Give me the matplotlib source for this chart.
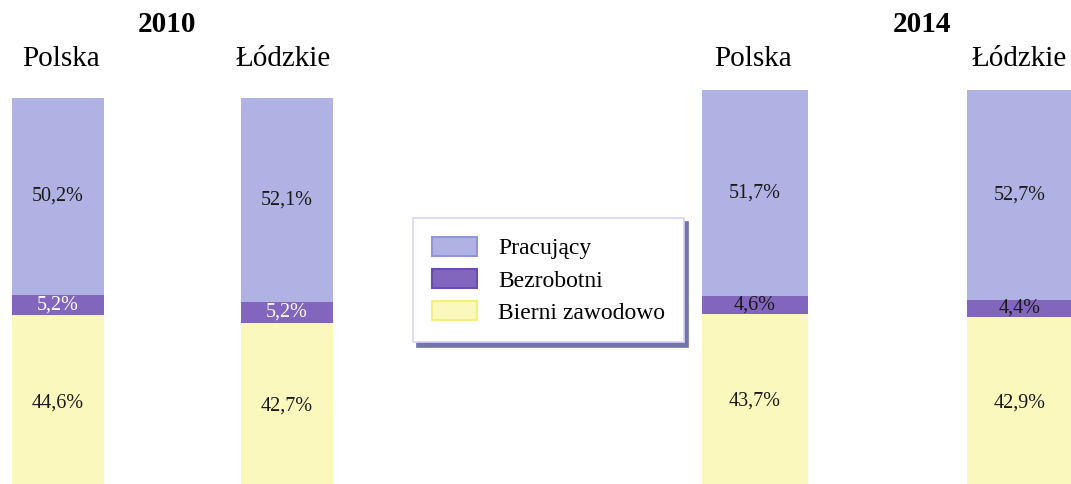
import matplotlib
matplotlib.use('Agg')
import matplotlib.pyplot as plt
from matplotlib.patches import Patch

# data (percent of population)
regions = ['Polska', 'Łódzkie']
years = ['2010', '2014']
pracujacy = {'2010': [50.2, 52.1], '2014': [51.7, 52.7]}
bezrobotni = {'2010': [5.2, 5.2], '2014': [4.6, 4.4]}
bierni = {'2010': [44.6, 42.7], '2014': [43.7, 42.9]}
series_names = ['Pracujący', 'Bezrobotni', 'Bierni zawodowo']

colors = {'Pracujący': '#AFB2E3', 'Bezrobotni': '#8266BE', 'Bierni zawodowo': '#FAF8BC'}
edges = {'Pracujący': '#9195DA', 'Bezrobotni': '#6A4CB2', 'Bierni zawodowo': '#F2EE84'}
mid_text = {'2010': 'white', '2014': '#1a1a1a'}

plt.rcParams['font.family'] = ['Liberation Serif', 'DejaVu Serif']

W, H = 1071, 484
fig = plt.figure(figsize=(W / 100, H / 100), dpi=100)

# axes boxes in pixels: left, top, right, bottom
boxes = {'2010': (12, 98, 333, 490), '2014': (702, 90, 1073, 488)}
header_x = {'2010': (167, [61, 283]), '2014': (922, [753, 1019])}

for year in years:
    l, t, r, b = boxes[year]
    ax = fig.add_axes([l / W, (H - b) / H, (r - l) / W, (b - t) / H])
    x = range(len(regions))
    bw = 0.4
    bot = bierni[year]
    mid = bezrobotni[year]
    top = pracujacy[year]
    ax.bar(x, bot, width=bw, color=colors['Bierni zawodowo'], linewidth=0)
    ax.bar(x, mid, width=bw, bottom=bot, color=colors['Bezrobotni'], linewidth=0)
    base2 = [a + c for a, c in zip(bot, mid)]
    ax.bar(x, top, width=bw, bottom=base2, color=colors['Pracujący'], linewidth=0)
    for i in x:
        fmt = lambda v: ('%.1f%%' % v).replace('.', ',')
        ax.text(i, bot[i] / 2, fmt(bot[i]), ha='center', va='center',
                fontsize=14.5, color='#1a1a1a')
        ax.text(i, bot[i] + mid[i] / 2, fmt(mid[i]), ha='center', va='center',
                fontsize=14.5, color=mid_text[year])
        ax.text(i, base2[i] + top[i] / 2, fmt(top[i]), ha='center', va='center',
                fontsize=14.5, color='#1a1a1a')
    ax.set_xlim(-0.2, 1.2)
    ax.set_ylim(0, 100)
    ax.axis('off')

    hx, rx = header_x[year]
    fig.text(hx / W, 1 - 25 / H, year, ha='center', va='center',
             fontsize=21, fontweight='bold')
    for name, px in zip(regions, rx):
        fig.text(px / W, 1 - 59 / H, name, ha='center', va='center', fontsize=21)

handles = [Patch(facecolor=colors[n], edgecolor=edges[n], linewidth=1.5, label=n)
           for n in series_names]
leg = fig.legend(handles=handles, loc='upper left',
                 bbox_to_anchor=(413 / W, 1 - 218 / H), borderaxespad=0,
                 fontsize=17, handlelength=1.9, handleheight=0.85,
                 handletextpad=0.9, labelspacing=0.4, borderpad=0.8,
                 fancybox=False, framealpha=1,
                 shadow={'color': '#7474AC', 'alpha': 1, 'ox': 3, 'oy': -3})
leg.get_frame().set_edgecolor('#D4D4F6')
leg.get_frame().set_linewidth(1.2)

fig.savefig('out.png', dpi=100)
